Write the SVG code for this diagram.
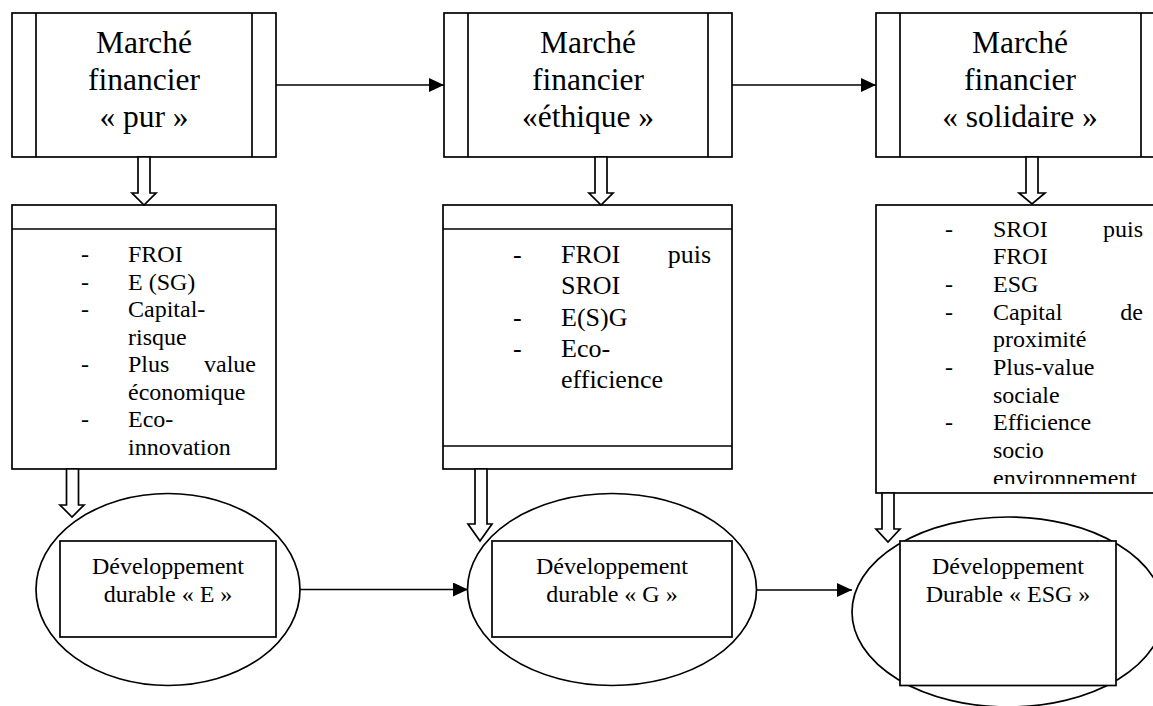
<svg xmlns="http://www.w3.org/2000/svg" width="1153" height="706" viewBox="0 0 1153 706" font-family="'Liberation Serif', 'DejaVu Serif', serif">
<style>
.s{fill:#fff;stroke:#000;stroke-width:1.7}
.l{fill:none;stroke:#000;stroke-width:1.7}
text{font-family:'Liberation Serif','DejaVu Serif',serif;fill:#000}
.h{font-size:31.5px;text-anchor:middle}
.b{font-size:24px}
.b2{font-size:26px}
.c{font-size:24px;text-anchor:middle}
.e{text-anchor:end}
</style>
<defs>
<marker id="ah" markerWidth="16" markerHeight="14" refX="15" refY="7" orient="auto" markerUnits="userSpaceOnUse">
<path d="M0,0 L15,7 L0,14 Z" fill="#000"/>
</marker>
<clipPath id="clip3"><rect x="876" y="205" width="290" height="279"/></clipPath>
</defs>
<rect width="1153" height="706" fill="#fff"/>

<g id="marche-pur">
<rect class="s" x="12" y="13" width="264" height="144"/>
<line class="l" x1="36" y1="13" x2="36" y2="157"/>
<line class="l" x1="252" y1="13" x2="252" y2="157"/>
<text class="h" x="144" y="53">Marché</text>
<text class="h" x="144" y="90">financier</text>
<text class="h" x="144" y="127">« pur »</text>
</g>

<g id="marche-ethique">
<rect class="s" x="444" y="13" width="288" height="144"/>
<line class="l" x1="468" y1="13" x2="468" y2="157"/>
<line class="l" x1="708" y1="13" x2="708" y2="157"/>
<text class="h" x="588" y="53">Marché</text>
<text class="h" x="588" y="90">financier</text>
<text class="h" x="588" y="127">«éthique »</text>
</g>

<g id="marche-solidaire">
<rect class="s" x="876" y="13" width="289" height="144"/>
<line class="l" x1="900" y1="13" x2="900" y2="157"/>
<line class="l" x1="1141" y1="13" x2="1141" y2="157"/>
<text class="h" x="1020" y="53">Marché</text>
<text class="h" x="1020" y="90">financier</text>
<text class="h" x="1020" y="127">« solidaire »</text>
</g>

<g id="liste-pur">
<rect class="s" x="12" y="205" width="264" height="264"/>
<line class="l" x1="12" y1="229" x2="276" y2="229"/>
<g class="b">
<text class="b" x="81" y="262">-</text><text class="b" x="128" y="262">FROI</text>
<text class="b" x="81" y="289.5">-</text><text class="b" x="128" y="289.5">E (SG)</text>
<text class="b" x="81" y="317">-</text><text class="b" x="128" y="317">Capital-</text>
<text class="b" x="128" y="344.5">risque</text>
<text class="b" x="81" y="372">-</text><text class="b" x="128" y="372">Plus</text><text class="b e" x="256" y="372">value</text>
<text class="b" x="128" y="399.5">économique</text>
<text class="b" x="81" y="427">-</text><text class="b" x="128" y="427">Eco-</text>
<text class="b" x="128" y="454.5">innovation</text>
</g>
</g>

<g id="liste-ethique">
<rect class="s" x="443" y="205" width="289" height="264"/>
<line class="l" x1="443" y1="229" x2="732" y2="229"/>
<line class="l" x1="443" y1="446" x2="732" y2="446"/>
<g>
<text class="b2" x="513" y="263">-</text><text class="b2" x="561" y="263">FROI</text><text class="b2 e" x="711" y="263">puis</text>
<text class="b2" x="561" y="294">SROI</text>
<text class="b2" x="513" y="326">-</text><text class="b2" x="561" y="326">E(S)G</text>
<text class="b2" x="513" y="357">-</text><text class="b2" x="561" y="357">Eco-</text>
<text class="b2" x="561" y="388">efficience</text>
</g>
</g>

<g id="liste-solidaire">
<rect class="s" x="876" y="205" width="290" height="288"/>
<g clip-path="url(#clip3)">
<text class="b" x="945" y="236.7">-</text><text class="b" x="993" y="236.7">SROI</text><text class="b e" x="1143" y="236.7">puis</text>
<text class="b" x="993" y="264.3">FROI</text>
<text class="b" x="945" y="292">-</text><text class="b" x="993" y="292">ESG</text>
<text class="b" x="945" y="319.7">-</text><text class="b" x="993" y="319.7">Capital</text><text class="b e" x="1143" y="319.7">de</text>
<text class="b" x="993" y="347.3">proximité</text>
<text class="b" x="945" y="375">-</text><text class="b" x="993" y="375">Plus-value</text>
<text class="b" x="993" y="402.6">sociale</text>
<text class="b" x="945" y="430.3">-</text><text class="b" x="993" y="430.3">Efficience</text>
<text class="b" x="993" y="458">socio</text>
<text class="b" x="993" y="485.6">environnement</text>
</g>
</g>

<g id="dd-e">
<ellipse class="s" cx="168" cy="589.5" rx="132" ry="96"/>
<rect class="s" x="60" y="541" width="216" height="96"/>
<text class="c" x="168" y="574.3">Développement</text>
<text class="c" x="168" y="601.7">durable « E »</text>
</g>

<g id="dd-g">
<ellipse class="s" cx="612" cy="589.5" rx="144.5" ry="96"/>
<rect class="s" x="492" y="541" width="240" height="96"/>
<text class="c" x="612" y="574.3">Développement</text>
<text class="c" x="612" y="601.7">durable « G »</text>
</g>

<g id="dd-esg">
<ellipse class="s" cx="1008" cy="612" rx="156" ry="95"/>
<rect class="s" x="900" y="541" width="216" height="144.5"/>
<text class="c" x="1008" y="574.3">Développement</text>
<text class="c" x="1008" y="601.7">Durable « ESG »</text>
</g>

<g id="connectors">
<line class="l" x1="276" y1="85" x2="444" y2="85" marker-end="url(#ah)"/>
<line class="l" x1="732" y1="85" x2="876" y2="85" marker-end="url(#ah)"/>
<line class="l" x1="300" y1="589.5" x2="468" y2="589.5" marker-end="url(#ah)"/>
<line class="l" x1="756.5" y1="590" x2="852" y2="590" marker-end="url(#ah)"/>
<polygon class="s" points="138,157 150,157 150,193 156,193 144,205 132,193 138,193"/>
<polygon class="s" points="595,157 607,157 607,193 613,193 601,205 589,193 595,193"/>
<polygon class="s" points="1026,157 1038,157 1038,193 1045,193 1032,204 1019,193 1026,193"/>
<polygon class="s" points="66.5,469 78.5,469 78.5,505 84,505 72,517 60,505 66.5,505"/>
<polygon class="s" points="475,469 487,469 487,524 492,524 480,541 468,524 475,524"/>
<polygon class="s" points="882,493 894,493 894,529 900,529 888,542 876,529 882,529"/>
</g>
</svg>
